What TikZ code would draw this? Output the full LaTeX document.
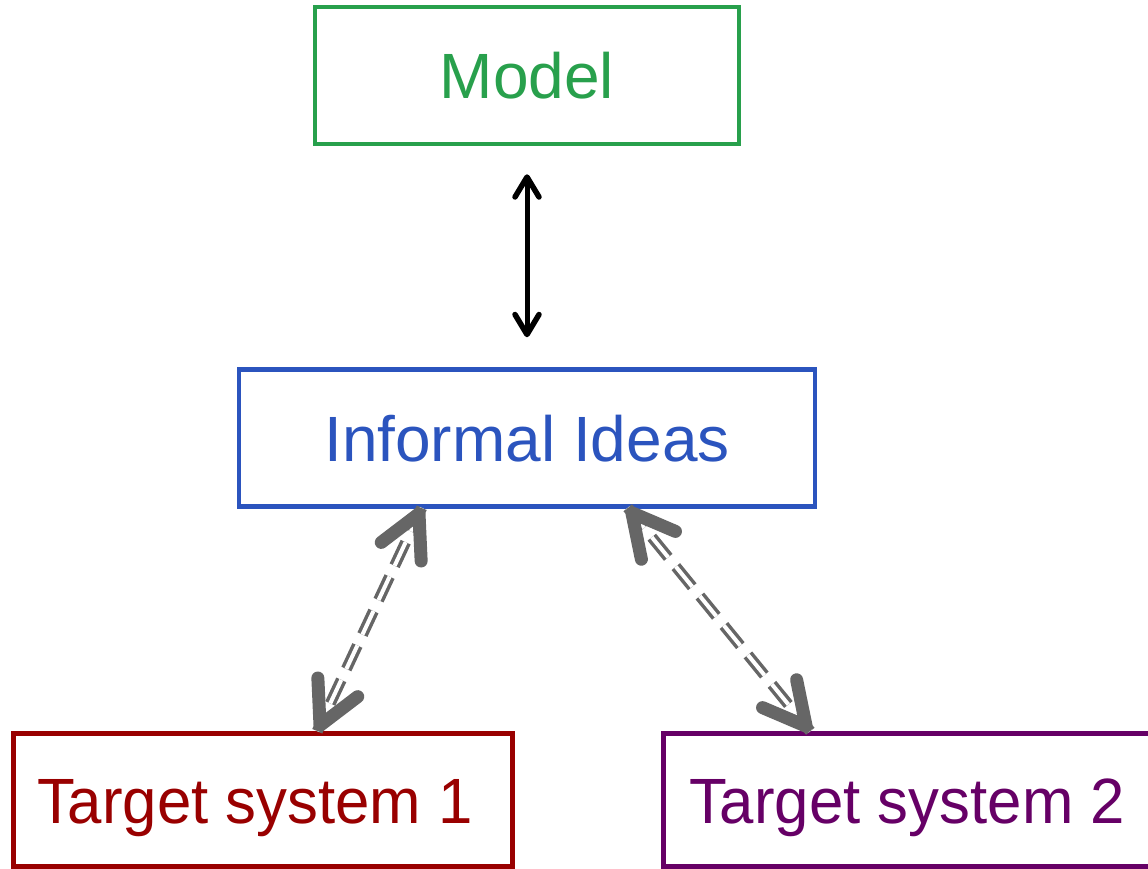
\documentclass[tikz,border=0pt]{standalone}
\usepackage{fontspec}
\setmainfont{Liberation Sans}
\newfontfamily\targetfont[FakeStretch=0.965]{Liberation Sans}
\usetikzlibrary{arrows.meta,calc}
\definecolor{modelgreen}{RGB}{40,160,76}
\definecolor{ideasblue}{RGB}{43,84,190}
\definecolor{targetred}{RGB}{153,0,0}
\definecolor{targetpurple}{RGB}{102,0,102}
\definecolor{linkgray}{RGB}{102,102,102}
\tikzset{
  box/.style={draw, line width=4.5pt, inner sep=0pt, minimum height=137pt,
    text height=46pt, text depth=0pt, font=\fontsize{64}{64}\selectfont},
  targetbox/.style={box, minimum width=499pt, minimum height=133pt,
    font=\targetfont\fontsize{64}{64}\selectfont},
  solidlink/.style={draw=black, line width=5pt,
    {Straight Barb[length=20pt, width=24pt, line width=5.5pt, round]}-{Straight Barb[length=20pt, width=24pt, line width=5.5pt, round]}},
  dashedlink/.style={draw=linkgray, line width=3.5pt, double=white, double distance=4pt,
    dash pattern=on 26pt off 12pt},
  barbhead/.style={draw=linkgray, line width=0.1pt,
    -{Straight Barb[length=42pt, width=44pt, line width=13pt, round]}}
}
\begin{document}
\begin{tikzpicture}[x=1pt, y=-1pt]
\useasboundingbox (0,0) rectangle (1148,868);

% boxes
\node[box, modelgreen, minimum width=424pt] (model) at (527,75.5) {Model};
\node[box, ideasblue, minimum width=576pt] (ideas) at (527,438) {Informal Ideas};
\node[targetbox, targetred] (target1) at (263,800) {Target system 1\hspace*{16pt}};
\node[targetbox, targetpurple] (target2) at (913,800) {Target system 2\hspace*{12pt}};

% model <-> informal ideas
\coordinate (mtop) at ($(model.south)+(0,28)$);
\coordinate (mbot) at ($(ideas.north)+(0,-30)$);
\draw[solidlink] (mtop) -- (mbot);

% informal ideas <-> target systems
\coordinate (i1) at ($(ideas.south west)+(185,-1)$);
\coordinate (t1) at ($(target1.north west)+(306,0)$);
\coordinate (i2) at ($(ideas.south west)+(391,-1)$);
\coordinate (t2) at ($(target2.north west)+(149,0)$);

\draw[dashedlink] (i1) -- (t1);
\draw[dashedlink] (i2) -- (t2);

\draw[barbhead] ($(i1)!20pt!(t1)$) -- (i1);
\draw[barbhead] ($(t1)!20pt!(i1)$) -- (t1);
\draw[barbhead] ($(i2)!20pt!(t2)$) -- (i2);
\draw[barbhead] ($(t2)!20pt!(i2)$) -- (t2);
\end{tikzpicture}
\end{document}
